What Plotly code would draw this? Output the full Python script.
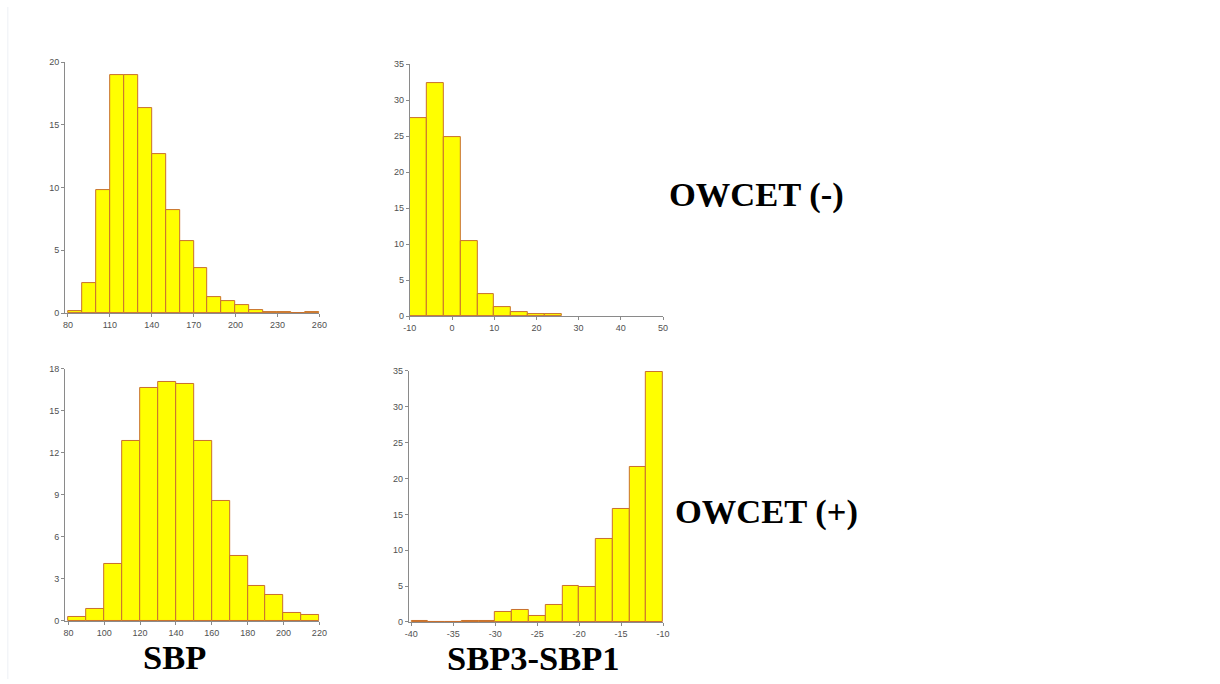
import plotly.graph_objects as go

W, H = 1220, 684

# ---- data (bin left edges and heights) ----
sbp_neg_left = [80, 90, 100, 110, 120, 130, 140, 150, 160, 170, 180, 190, 200, 210, 220, 230, 240, 250]
sbp_neg_vals = [0.15, 2.4, 9.8, 19.0, 19.0, 16.3, 12.7, 8.2, 5.7, 3.6, 1.3, 0.95, 0.6, 0.2, 0.1, 0.1, 0.0, 0.1]

diff_neg_left = [-10, -6, -2, 2, 6, 10, 14, 18, 22]
diff_neg_vals = [27.5, 32.3, 24.8, 10.4, 3.1, 1.25, 0.5, 0.25, 0.2]

sbp_pos_left = [80, 90, 100, 110, 120, 130, 140, 150, 160, 170, 180, 190, 200, 210]
sbp_pos_vals = [0.25, 0.85, 4.1, 12.85, 16.65, 17.05, 16.95, 12.85, 8.55, 4.65, 2.5, 1.85, 0.57, 0.45]

diff_pos_left = [-40, -38, -36, -34, -32, -30, -28, -26, -24, -22, -20, -18, -16, -14, -12]
diff_pos_vals = [0.15, 0.0, 0.0, 0.1, 0.1, 1.45, 1.67, 0.85, 2.32, 5.05, 4.83, 11.6, 15.75, 21.65, 34.9]


# map target picture pixels to page pixels (compensates the capture offset/scale)
def fx(X):
    return max(0.0, (X - 9.1) / 0.983) / W


def fy(Y):
    return 1 - max(0.0, (Y - 4.9) / 0.9857) / H


panels = [
    dict(left=sbp_neg_left, vals=sbp_neg_vals, w=10, xr=[78, 260], xt=[80, 110, 140, 170, 200, 230, 260],
         yr=[0, 20], yt=[0, 5, 10, 15, 20], px=(67, 320), py=(62, 313)),
    dict(left=diff_neg_left, vals=diff_neg_vals, w=4, xr=[-10, 50], xt=[-10, 0, 10, 20, 30, 40, 50],
         yr=[0, 35], yt=[0, 5, 10, 15, 20, 25, 30, 35], px=(410, 662), py=(64, 316)),
    dict(left=sbp_pos_left, vals=sbp_pos_vals, w=10, xr=[78.2, 220], xt=[80, 100, 120, 140, 160, 180, 200, 220],
         yr=[0, 18], yt=[0, 3, 6, 9, 12, 15, 18], px=(67, 320), py=(369, 621)),
    dict(left=diff_pos_left, vals=diff_pos_vals, w=2, xr=[-40.3, -10], xt=[-40, -35, -30, -25, -20, -15, -10],
         yr=[0, 35], yt=[0, 5, 10, 15, 20, 25, 30, 35], px=(409, 662), py=(371, 622)),
]

fig = go.Figure()
layout = dict(
    width=W, height=H, margin=dict(l=0, r=0, t=0, b=0),
    paper_bgcolor="white", plot_bgcolor="white", showlegend=False,
    bargap=0,
)

axis_common = dict(showgrid=False, zeroline=False, showline=True, linecolor="#8a8a8a", linewidth=1,
                   ticks="outside", ticklen=3, tickcolor="#8a8a8a", tickwidth=1,
                   tickfont=dict(family="Liberation Sans, Arial", size=9, color="#505050"))

for i, p in enumerate(panels, start=1):
    xa = "x" if i == 1 else f"x{i}"
    ya = "y" if i == 1 else f"y{i}"
    fig.add_trace(go.Bar(
        x=p["left"], y=p["vals"], width=[p["w"]] * len(p["left"]), offset=0,
        marker=dict(color="#FFFF00", line=dict(color="#C8702E", width=1)),
        xaxis=xa, yaxis=ya, hoverinfo="skip"))
    x0, x1 = p["px"]
    y0, y1 = p["py"]
    layout[f"xaxis{'' if i == 1 else i}"] = dict(
        axis_common, domain=[fx(x0), fx(x1)], range=p["xr"], tickvals=p["xt"],
        ticktext=[str(v) for v in p["xt"]], anchor=ya)
    layout[f"yaxis{'' if i == 1 else i}"] = dict(
        axis_common, domain=[fy(y1), fy(y0)], range=p["yr"], tickvals=p["yt"],
        ticktext=[str(v) for v in p["yt"]], anchor=xa)

fig.update_layout(**layout)

serif = "Liberation Serif, Times New Roman, serif"
labels = [
    ("OWCET (-)", 755, 194),
    ("OWCET (+)", 765, 512),
    ("SBP", 176, 657),
    ("SBP3-SBP1", 533, 658),
]
for txt, x, y in labels:
    fig.add_annotation(text=f"<b>{txt}</b>", x=fx(x), y=fy(y), xref="paper", yref="paper",
                       showarrow=False, xanchor="center", yanchor="middle",
                       font=dict(family=serif, size=34.5, color="black"))

# faint slide border on the left
fig.add_shape(type="rect", xref="paper", yref="paper", x0=0, x1=1.5 / W, y0=0, y1=fy(7),
              line=dict(width=0), fillcolor="#F3F5F8", layer="below")

fig.write_html("out.html", config={"displayModeBar": False},
               post_script="document.body.style.margin='0';document.body.style.overflow='hidden';")
